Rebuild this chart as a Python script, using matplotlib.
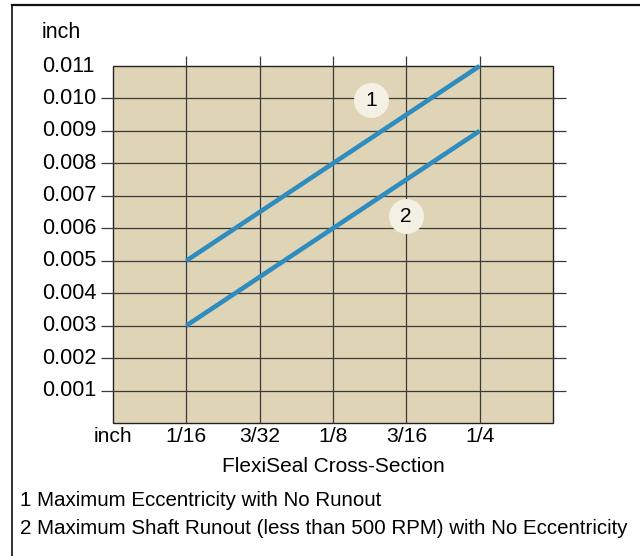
import matplotlib.pyplot as plt

# data
x_labels = ['inch', '1/16', '3/32', '1/8', '3/16', '1/4']
x_pos = [0, 1, 2, 3, 4, 5]
y_ticks = [0.001, 0.002, 0.003, 0.004, 0.005, 0.006, 0.007, 0.008, 0.009, 0.010, 0.011]
line1_x = [1, 5]
line1_y = [0.005, 0.011]
line2_x = [1, 5]
line2_y = [0.003, 0.009]
legend_lines = ['1 Maximum Eccentricity with No Runout',
                '2 Maximum Shaft Runout (less than 500 RPM) with No Eccentricity']

plt.rcParams['font.family'] = ['Liberation Sans', 'DejaVu Sans']

# pixel mapping of the reference (x0 px at data 0, px per unit)
W, H = 640, 556
x0, xs = 113, 73.33
y0, ys = 423, 357 / 0.011

fig = plt.figure(figsize=(W / 100, H / 100), dpi=100)
ax = fig.add_axes([0, 0, 1, 1])
ax.set_xlim(-x0 / xs, (W - x0) / xs)
ax.set_ylim(-(H - y0) / ys, y0 / ys)
ax.axis('off')

px = lambda p: (p - x0) / xs
py = lambda p: (y0 - p) / ys

tan = '#dfd4b6'
blue = '#2e8cbf'
grid = '#3a3a3a'

# outer frame (only top and left visible)
ax.plot([px(12), px(640)], [py(5), py(5)], color='#111', lw=1.6, clip_on=False)
ax.plot([px(12), px(12)], [py(5), py(560)], color='#111', lw=1.2, clip_on=False)

# plot area
ax.add_patch(plt.Rectangle((0, 0), 6, 0.011, facecolor=tan, edgecolor='#222', lw=1.0, zorder=1))

# gridlines
ax.hlines(y_ticks[:-1], px(101), px(566), color=grid, lw=0.9, zorder=2)
ax.vlines(x_pos[1:], 0, py(56), color=grid, lw=0.9, zorder=2)

# series
ax.plot(line1_x, line1_y, color=blue, lw=3.3, solid_capstyle='butt', zorder=3)
ax.plot(line2_x, line2_y, color=blue, lw=3.3, solid_capstyle='butt', zorder=3)

# numbered circles
for n, (cx, cy) in enumerate([(3.52, 0.00995), (3.99, 0.00637)], start=1):
    ax.scatter([cx], [cy], s=(2 * 17.5 * 0.72) ** 2, color='#f4f1e4', zorder=4, linewidths=0)
    ax.text(cx, cy, str(n), fontsize=15, ha='center', va='center', zorder=5)

# y tick labels
for v in y_ticks:
    ax.text(px(42), v, f'{v:.3f}', fontsize=15.5, ha='left', va='center')
ax.text(px(42), py(33), 'inch', fontsize=15.5, ha='left', va='center')

# x tick labels
for xp, lab in zip(x_pos, x_labels):
    ax.text(xp, py(437), lab, fontsize=15.2, ha='center', va='center')
ax.text(3, py(466), 'FlexiSeal Cross-Section', fontsize=15, ha='center', va='center')

# legend text
for i, t in enumerate(legend_lines):
    ax.text(px(20), py(500 + 28 * i), t, fontsize=14.8, ha='left', va='center')

fig.savefig('out.png', dpi=100)
